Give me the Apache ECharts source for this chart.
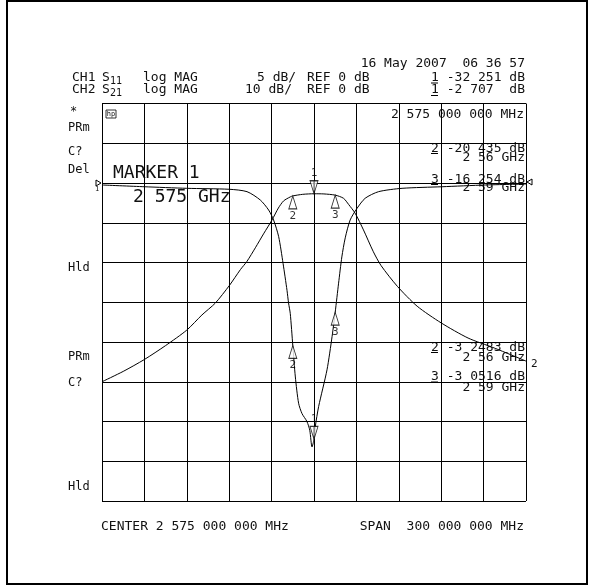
<!DOCTYPE html>
<html>
<head>
<meta charset="utf-8">
<script src="https://cdn.jsdelivr.net/npm/echarts@6/dist/echarts.min.js"></script>
<style>
html,body{margin:0;padding:0;background:#fff;}
#c{width:589px;height:586px;}
</style>
</head>
<body>
<div id="c"></div>
<script>
// Frequencies in MHz; span 2425..2725 MHz (center 2575, span 300)
const startMHz = 2425;
const freqS11 = [2425, 2455, 2485, 2515, 2527.6, 2537, 2542.9, 2546.4, 2550, 2553.1, 2555.9, 2557, 2558.2, 2560, 2561.8, 2564.1, 2566.5, 2570, 2572, 2573.6, 2575, 2575.9, 2578.3, 2584.2, 2587.8, 2590, 2592.4, 2594.7, 2597.1, 2600.6, 2605.4, 2611.2, 2620.7, 2637.3, 2665.6, 2696.2, 2725];
const s11dB   = [-0.25, -0.47, -0.67, -0.79, -1.09, -2.14, -3.40, -4.65, -6.75, -10.1, -13.5, -15.1, -16.4, -20.435, -24.4, -27.7, -29.0, -30.0, -31.1, -33.2, -32.251, -30.65, -28.1, -23.5, -19.3, -16.254, -12.6, -9.3, -6.9, -4.65, -3.2, -1.92, -1.09, -0.67, -0.47, -0.25, -0.13];
const freqS21 = [2425, 2440, 2455, 2470, 2485, 2495.7, 2505.2, 2515.1, 2522.9, 2527.6, 2533.5, 2539.3, 2545.3, 2549.8, 2553.5, 2558.2, 2560, 2567, 2575, 2582, 2590, 2595.9, 2599.5, 2604.1, 2610, 2617, 2622.5, 2634, 2648, 2665, 2684, 2702.5, 2725];
const s21dB   = [-50.0, -47.4, -44.4, -40.9, -37.0, -33.2, -30.2, -25.8, -21.8, -19.7, -16.3, -12.8, -9.3, -6.3, -4.5, -3.5, -3.2483, -2.85, -2.707, -2.75, -3.0516, -3.85, -5.4, -7.6, -11.8, -17.3, -20.8, -26.0, -31.0, -35.2, -39.0, -41.5, -44.8];
const markerNames = ['1', '2', '3'];
const markerFreq = [2575, 2560, 2590];
const markerS11 = [-32.251, -20.435, -16.254];
const markerS21 = [-2.707, -3.2483, -3.0516];

const pairs = (f, v) => f.map((x, i) => [x - startMHz, v[i]]);
const MONO = 'DejaVu Sans Mono';
const upTri = 'path://M5,0 L10,13 L0,13 Z';
const downTri = 'path://M0,0 L10,0 L5,13 Z M5,0 L5,13';

function markerData(vals) {
  return markerNames.map((n, i) => {
    const active = i === 0;
    return {
      value: [markerFreq[i] - startMHz, vals[i]],
      symbol: active ? downTri : upTri,
      symbolSize: [8, 13],
      symbolOffset: active ? [0, '-50%'] : [0, '50%'],
      label: {
        show: true, formatter: n, position: active ? 'top' : 'bottom',
        distance: 1, fontFamily: MONO, fontSize: 11, color: '#000'
      }
    };
  });
}

const T = (text, x, y, size, align, extra) => Object.assign({
  type: 'text', silent: true,
  style: { text: text, x: x, y: y, font: size + 'px "' + MONO + '"', fill: '#111',
           textAlign: align || 'left', align: align || 'left',
           textVerticalAlign: 'middle', verticalAlign: 'middle' }
}, extra || {});
const L = (x1, y1, x2, y2, w) => ({ type: 'line', silent: true,
  shape: { x1: x1, y1: y1, x2: x2, y2: y2 }, style: { stroke: '#000', lineWidth: w || 1 } });

const graphics = [
  { type: 'rect', silent: true, shape: { x: 7, y: 1, width: 580, height: 583 },
    style: { fill: 'none', stroke: '#000', lineWidth: 2 } },
  // header
  T('16 May 2007  06 36 57', 525, 64, 13, 'right'),
  T('CH1', 72, 77.5, 13), T('S', 102, 77.5, 13), T('11', 110, 81, 10),
  T('log MAG', 143, 77.5, 13), T('5 dB/', 257, 77.5, 13), T('REF 0 dB', 307, 77.5, 13),
  T('1 -32 251 dB', 525, 77.5, 13, 'right'), L(431, 83, 438, 83),
  T('CH2', 72, 90, 13), T('S', 102, 90, 13), T('21', 110, 93.5, 10),
  T('log MAG', 143, 90, 13), T('10 dB/', 245, 90, 13), T('REF 0 dB', 307, 90, 13),
  T('1 -2 707  dB', 525, 90, 13, 'right'), L(431, 95.5, 438, 95.5),
  // inside first row
  T('2 575 000 000 MHz', 524, 115, 13, 'right'),
  { type: 'rect', silent: true, shape: { x: 106, y: 110, width: 10, height: 8 },
    style: { fill: 'none', stroke: '#000', lineWidth: 0.8 } },
  T('hp', 111, 114, 7, 'center'),
  // left status labels
  T('*', 70, 112, 12), T('PRm', 68, 128, 12), T('C?', 68, 152, 12), T('Del', 68, 170, 12),
  T('Hld', 68, 268, 12), T('PRm', 68, 357, 12), T('C?', 68, 383, 12), T('Hld', 68, 487, 12),
  // marker annotation
  T('MARKER 1', 113, 173, 18), T('2 575 GHz', 133, 197, 18),
  // CH1 marker readouts
  T('2 -20 435 dB', 525, 148.5, 13, 'right'), L(431, 153.5, 438, 153.5),
  T('2 56 GHz', 525, 157.5, 13, 'right'),
  T('3 -16 254 dB', 525, 179.5, 13, 'right'), L(431, 184.5, 438, 184.5),
  T('2 59 GHz', 525, 188, 13, 'right'),
  // CH2 marker readouts
  T('2 -3 2483 dB', 525, 347.5, 13, 'right'), L(431, 352.5, 438, 352.5),
  T('2 56 GHz', 525, 358, 13, 'right'),
  T('3 -3 0516 dB', 525, 377, 13, 'right'), L(431, 382, 438, 382),
  T('2 59 GHz', 525, 388, 13, 'right'),
  // reference arrows
  { type: 'polygon', silent: true, shape: { points: [[96, 180], [101, 183], [96, 186]] },
    style: { fill: '#fff', stroke: '#000', lineWidth: 1 } },
  T('1', 97, 189, 7, 'center'),
  { type: 'polygon', silent: true, shape: { points: [[532, 179], [527, 182], [532, 185]] },
    style: { fill: '#fff', stroke: '#000', lineWidth: 1 } },
  T('2', 531, 364, 11),
  // footer
  T('CENTER 2 575 000 000 MHz', 101, 527, 13),
  T('SPAN  300 000 000 MHz', 524, 527, 13, 'right')
];

const chart = echarts.init(document.getElementById('c'), null, { renderer: 'canvas' });
chart.setOption({
  backgroundColor: '#fff',
  animation: false,
  grid: { left: 102, top: 103.5, width: 424, height: 397.5, containLabel: false },
  xAxis: {
    type: 'value', min: 0, max: 300, interval: 30,
    axisLine: { show: false }, axisTick: { show: false }, axisLabel: { show: false },
    splitLine: { show: true, lineStyle: { color: '#000', width: 1 } }
  },
  yAxis: [
    { type: 'value', min: -40, max: 10, interval: 5,
      axisLine: { show: false }, axisTick: { show: false }, axisLabel: { show: false },
      splitLine: { show: true, lineStyle: { color: '#000', width: 1 } } },
    { type: 'value', min: -80, max: 20, interval: 10,
      axisLine: { show: false }, axisTick: { show: false }, axisLabel: { show: false },
      splitLine: { show: false } }
  ],
  series: [
    { name: 'S11', type: 'line', yAxisIndex: 0, data: pairs(freqS11, s11dB),
      showSymbol: false, smooth: 0.25,
      lineStyle: { color: '#000', width: 1 }, silent: true },
    { name: 'S21', type: 'line', yAxisIndex: 1, data: pairs(freqS21, s21dB),
      showSymbol: false, smooth: 0.25,
      lineStyle: { color: '#000', width: 1 }, silent: true },
    { name: 'S11 markers', type: 'scatter', yAxisIndex: 0, data: markerData(markerS11),
      itemStyle: { color: '#fff', borderColor: '#000', borderWidth: 1 }, z: 5, silent: true },
    { name: 'S21 markers', type: 'scatter', yAxisIndex: 1, data: markerData(markerS21),
      itemStyle: { color: '#fff', borderColor: '#000', borderWidth: 1 }, z: 5, silent: true }
  ],
  graphic: { elements: graphics }
});
</script>
</body>
</html>
